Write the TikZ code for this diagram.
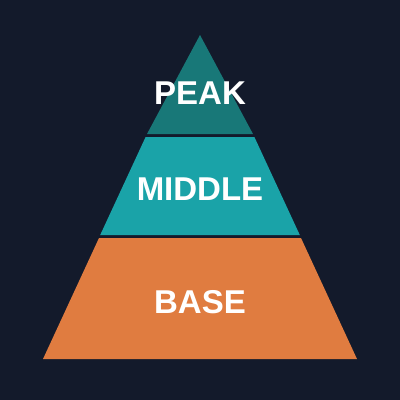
\documentclass[tikz,border=0pt]{standalone}
\usepackage{fontspec}
\setmainfont{Liberation Sans}
\definecolor{bg}{HTML}{131A2B}
\definecolor{peakc}{HTML}{187878}
\definecolor{midc}{HTML}{1AA3A8}
\definecolor{basec}{HTML}{E07C40}
\tikzset{
  tier/.style={draw=none},
  label/.style={text=white,font=\bfseries\fontsize{33}{33}\selectfont,inner sep=0pt,anchor=center}
}
\begin{document}
\begin{tikzpicture}[x=1pt,y=-1pt]
\fill[bg] (0,0) rectangle (400,400);
\useasboundingbox (0,0) rectangle (400,400);
\fill[tier,peakc] (200,35) -- (253,134) -- (147,134) -- cycle;
\fill[tier,midc] (145.6,137) -- (254.4,137) -- (299.8,235) -- (100.2,235) -- cycle;
\fill[tier,basec] (99,238) -- (301,238) -- (357,359) -- (43,359) -- cycle;
\node[label] (peak) at (200,93) {PEAK};
\node[label] (middle) at (200,189) {MIDDLE};
\node[label] (base) at (200,302) {BASE};
\end{tikzpicture}
\end{document}
